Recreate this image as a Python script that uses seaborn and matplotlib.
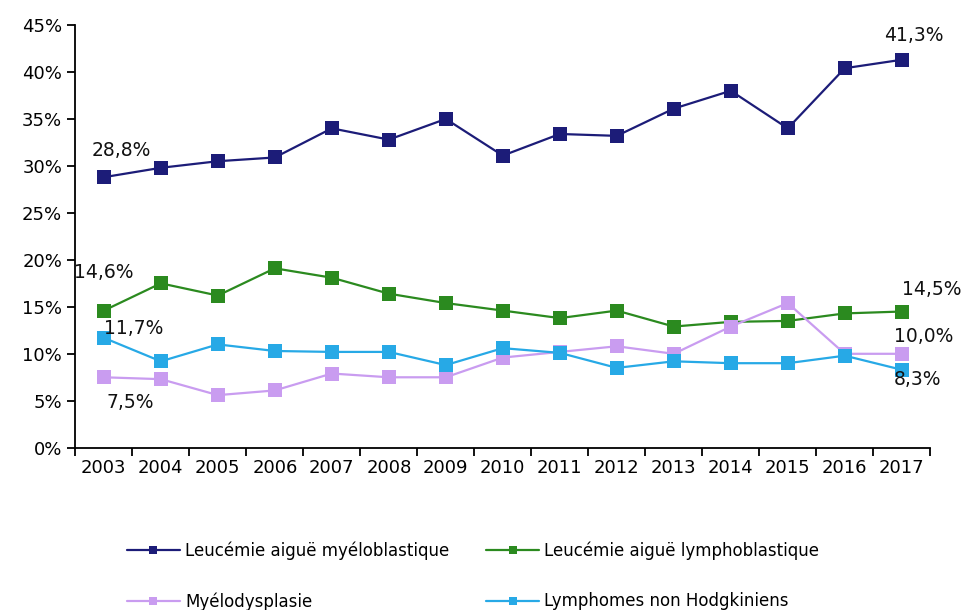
import pandas as pd
import seaborn as sns
import matplotlib
matplotlib.use('agg')
import matplotlib.pyplot as plt
from matplotlib.ticker import MultipleLocator, FuncFormatter

years = list(range(2003, 2018))

# values (%)
lam = [28.8, 29.8, 30.5, 30.9, 34.0, 32.8, 35.0, 31.1, 33.4, 33.2, 36.1, 38.0, 34.0, 40.4, 41.3]
lal = [14.6, 17.5, 16.2, 19.1, 18.1, 16.4, 15.4, 14.6, 13.8, 14.6, 12.9, 13.4, 13.5, 14.3, 14.5]
myelo = [7.5, 7.3, 5.6, 6.1, 7.9, 7.5, 7.5, 9.6, 10.2, 10.8, 10.0, 12.9, 15.4, 10.0, 10.0]
lnh = [11.7, 9.2, 11.0, 10.3, 10.2, 10.2, 8.8, 10.6, 10.1, 8.5, 9.2, 9.0, 9.0, 9.8, 8.3]

series_names = ["Leucémie aiguë myéloblastique", "Leucémie aiguë lymphoblastique",
                "Myélodysplasie", "Lymphomes non Hodgkiniens"]
series_colors = ["#1c1c78", "#2b8a1f", "#c99cf0", "#27a9e6"]

df = pd.DataFrame({
    'Année': years * 4,
    'Valeur': lam + lal + myelo + lnh,
    'Série': [s for s in series_names for _ in years],
})

sns.set_theme(style="ticks")
plt.rcParams['font.family'] = ['DejaVu Sans']

fig = plt.figure(figsize=(9.66, 6.10), dpi=100)
ax = fig.add_axes([0.078, 0.266, 0.885, 0.693])

chart = sns.lineplot(
    data=df,
    x='Année',
    y='Valeur',
    hue='Série',
    hue_order=series_names,
    palette=series_colors,
    marker='s',
    markersize=9.5,
    markeredgewidth=0,
    linewidth=1.6,
    ax=ax,
)

# end point labels
labels = [
    (2003, lam[0], "28,8%", 17, 27),
    (2003, lal[0], "14,6%", 0, 38),
    (2003, lnh[0], "11,7%", 30, 9),
    (2003, myelo[0], "7,5%", 26, -25),
    (2017, lam[-1], "41,3%", 12, 24),
    (2017, lal[-1], "14,5%", 30, 22),
    (2017, myelo[-1], "10,0%", 22, 17),
    (2017, lnh[-1], "8,3%", 16, -10),
]
for x, y, txt, dx, dy in labels:
    ax.annotate(txt, (x, y), xytext=(dx, dy), textcoords='offset pixels',
                ha='center', va='center', fontsize=13.5, color='#111111')

ax.set_xlim(2002.5, 2017.5)
ax.set_ylim(0, 45)
ax.yaxis.set_major_locator(MultipleLocator(5))
ax.yaxis.set_major_formatter(FuncFormatter(lambda v, p: f"{v:.0f}%"))
ax.set_xticks(years)
ax.set_xticks([y - 0.5 for y in years] + [2017.5], minor=True)
ax.tick_params(axis='x', which='major', length=0, labelsize=13, pad=8)
ax.tick_params(axis='x', which='minor', length=6, width=1.3, direction='out', color='black')
ax.tick_params(axis='y', length=6, width=1.3, direction='out', labelsize=13, color='black')
for lbl in ax.get_xticklabels() + ax.get_yticklabels():
    lbl.set_color('black')

ax.set_xlabel('')
ax.set_ylabel('')
for side in ['top', 'right']:
    ax.spines[side].set_visible(False)
for side in ['left', 'bottom']:
    ax.spines[side].set_color('black')
    ax.spines[side].set_linewidth(1.3)

# legend filled row by row: reorder handles for matplotlib's column-first layout
handles, names = ax.get_legend_handles_labels()
order = [0, 2, 1, 3]
leg = ax.legend(
    [handles[i] for i in order],
    [names[i] for i in order],
    loc='upper center',
    bbox_to_anchor=(0.465, -0.186),
    ncol=2,
    frameon=False,
    fontsize=12,
    handlelength=3.2,
    handletextpad=0.3,
    columnspacing=2.2,
    labelspacing=1.95,
)
for h in leg.legend_handles:
    h.set_markersize(6)
for t in leg.get_texts():
    t.set_color('black')

fig.savefig('out.png', dpi=100)
